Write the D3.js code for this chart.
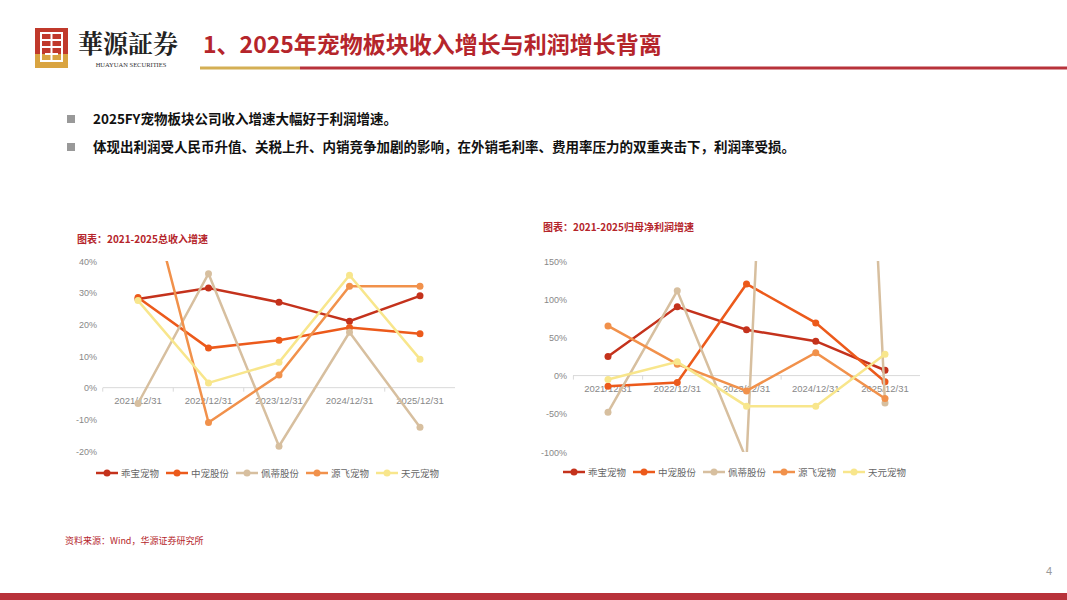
<!DOCTYPE html>
<html><head><meta charset="utf-8">
<script src="https://cdn.jsdelivr.net/npm/d3@7"></script>
<style>body{margin:0;background:#fff;}svg{display:block;}</style>
</head><body>
<svg id="page" width="1067" height="600"></svg>
<script>
// data
var years = ['2021/12/31', '2022/12/31', '2023/12/31', '2024/12/31', '2025/12/31'];
var names = ['乖宝宠物', '中宠股份', '佩蒂股份', '源飞宠物', '天元宠物'];
var colors = ['#C4321C', '#EC5A1B', '#D7BF9F', '#F1914B', '#F8E68C'];
var revGuaibao = [28, 31.5, 27, 21, 29];
var revZhongchong = [28.5, 12.5, 15, 19, 17];
var revPeidi = [-5, 36, -18.5, 17.5, -12.5];
var revYuanfei = [75, -11, 4, 32, 32];
var revTianyuan = [27.5, 1.5, 8, 35.5, 9];
var npGuaibao = [25, 90, 60, 45, 7];
var npZhongchong = [-14, -9, 120, 69, -8];
var npPeidi = [-48, 111, -110, 1800, -36];
var npYuanfei = [65, 15, -20, 30, -30];
var npTianyuan = [-5, 18, -40, -40, 28];
var revTicks = [-20, -10, 0, 10, 20, 30, 40];
var npTicks = [-100, -50, 0, 50, 100, 150];

var svg = d3.select('#page');
var red = '#B5252B';

// header
var logo = svg.append('g').attr('transform', 'translate(35,28)');
logo.append('rect').attr('width', 33).attr('height', 26).attr('fill', '#C0392B');
logo.append('rect').attr('y', 26).attr('width', 33).attr('height', 14).attr('fill', '#D9A441');
logo.append('rect').attr('x', 6).attr('y', 5).attr('width', 21).attr('height', 28).attr('fill', 'none').attr('stroke', '#fff').attr('stroke-width', 2);
logo.append('path').attr('d', 'M6,12H27M6,19H27M16.5,5V33M10,26H23').attr('stroke', '#fff').attr('stroke-width', 2).attr('fill', 'none');
svg.append('text').attr('x', 78).attr('y', 53).text('華源証券')
  .attr('font-family', 'Noto Serif CJK SC, Noto Sans CJK TC, serif').attr('font-weight', 'bold').attr('font-size', 25).attr('fill', '#222');
svg.append('text').attr('x', 131).attr('y', 67).text('HUAYUAN SECURITIES').attr('text-anchor', 'middle')
  .attr('font-family', 'Liberation Serif, serif').attr('font-size', 6.5).attr('fill', '#333');
svg.append('text').attr('x', 203).attr('y', 53).text('1、2025年宠物板块收入增长与利润增长背离')
  .attr('font-family', 'Noto Sans CJK SC').attr('font-weight', 'bold').attr('font-size', 23).attr('fill', red);
svg.append('line').attr('x1', 200).attr('x2', 300).attr('y1', 68).attr('y2', 68).attr('stroke', '#D4AF54').attr('stroke-width', 3);
svg.append('line').attr('x1', 300).attr('x2', 1067).attr('y1', 68).attr('y2', 68).attr('stroke', '#B8323A').attr('stroke-width', 3);

// bullets
var bullets = ['2025FY宠物板块公司收入增速大幅好于利润增速。',
  '体现出利润受人民币升值、关税上升、内销竞争加剧的影响，在外销毛利率、费用率压力的双重夹击下，利润率受损。'];
bullets.forEach(function(b, i) {
  var y = 124 + i * 28;
  svg.append('rect').attr('x', 67).attr('y', y - 9).attr('width', 8).attr('height', 8).attr('fill', '#999');
  svg.append('text').attr('x', 93).attr('y', y).text(b)
    .attr('font-family', 'Noto Sans CJK SC').attr('font-weight', 'bold').attr('font-size', 13.5).attr('fill', '#111');
});

function chart(opt) {
  var g = svg.append('g');
  var x = d3.scalePoint().domain(years).range([opt.x0 + 35, opt.x1 - 35]);
  var y = d3.scaleLinear().domain(opt.domain).range([opt.yb, opt.yt]);
  g.append('text').attr('x', opt.tx).attr('y', opt.ty).text(opt.title)
    .attr('font-family', 'Noto Sans CJK SC').attr('font-weight', 'bold').attr('font-size', 10).attr('fill', red);
  opt.ticks.forEach(function(t) {
    g.append('text').attr('x', opt.x0 - 6).attr('y', y(t) + 3.5).attr('text-anchor', 'end').text(t + '%')
      .attr('font-family', 'Liberation Sans').attr('font-size', 9).attr('fill', '#888');
  });
  var step = x.step();
  g.append('line').attr('x1', opt.x0).attr('x2', opt.x1).attr('y1', y(0)).attr('y2', y(0)).attr('stroke', '#d9d9d9');
  years.forEach(function(yr, i) {
    var xt = x(yr) - step / 2;
    g.append('line').attr('x1', xt).attr('x2', xt).attr('y1', y(0)).attr('y2', y(0) + 4).attr('stroke', '#d9d9d9');
    g.append('text').attr('x', x(yr)).attr('y', y(0) + 16).attr('text-anchor', 'middle').text(yr)
      .attr('font-family', 'Liberation Sans').attr('font-size', 9.5).attr('fill', '#888');
  });
  var clipId = 'clip' + opt.x0;
  g.append('clipPath').attr('id', clipId).append('rect')
    .attr('x', opt.x0).attr('y', opt.yt).attr('width', opt.x1 - opt.x0).attr('height', opt.yb - opt.yt);
  var plot = g.append('g').attr('clip-path', 'url(#' + clipId + ')');
  var line = d3.line().x(function(d, i) { return x(years[i]); }).y(function(d) { return y(d); });
  opt.series.forEach(function(s, k) {
    plot.append('path').datum(s).attr('d', line).attr('fill', 'none').attr('stroke', colors[k]).attr('stroke-width', 2.5);
    plot.selectAll(null).data(s).enter().append('circle')
      .attr('cx', function(d, i) { return x(years[i]); }).attr('cy', function(d) { return y(d); })
      .attr('r', 3.5).attr('fill', colors[k]);
  });
  // legend
  var lx = opt.lx;
  names.forEach(function(n, k) {
    var lg = g.append('g').attr('transform', 'translate(' + lx + ',' + opt.ly + ')');
    lg.append('line').attr('x1', 0).attr('x2', 22).attr('stroke', colors[k]).attr('stroke-width', 2.5);
    lg.append('circle').attr('cx', 11).attr('r', 3.5).attr('fill', colors[k]);
    lg.append('text').attr('x', 25).attr('y', 3.5).text(n)
      .attr('font-family', 'Noto Sans CJK SC').attr('font-size', 9.5).attr('fill', '#666');
    lx += 70;
  });
}

chart({x0: 103, x1: 455, yt: 261, yb: 451, domain: [-20, 40], ticks: revTicks,
  title: '图表：2021-2025总收入增速', tx: 77, ty: 243, lx: 96, ly: 473,
  series: [revGuaibao, revZhongchong, revPeidi, revYuanfei, revTianyuan]});
chart({x0: 573, x1: 920, yt: 261, yb: 452, domain: [-100, 150], ticks: npTicks,
  title: '图表：2021-2025归母净利润增速', tx: 543, ty: 231, lx: 563, ly: 472,
  series: [npGuaibao, npZhongchong, npPeidi, npYuanfei, npTianyuan]});

svg.append('text').attr('x', 65).attr('y', 544).text('资料来源：Wind，华源证券研究所')
  .attr('font-family', 'Noto Sans CJK SC').attr('font-size', 9).attr('fill', red);
svg.append('text').attr('x', 1052).attr('y', 575).attr('text-anchor', 'end').text('4')
  .attr('font-family', 'Liberation Sans').attr('font-size', 11).attr('fill', '#999');
svg.append('rect').attr('x', 0).attr('y', 593).attr('width', 1067).attr('height', 7).attr('fill', '#B8323A');
</script>
</body></html>
